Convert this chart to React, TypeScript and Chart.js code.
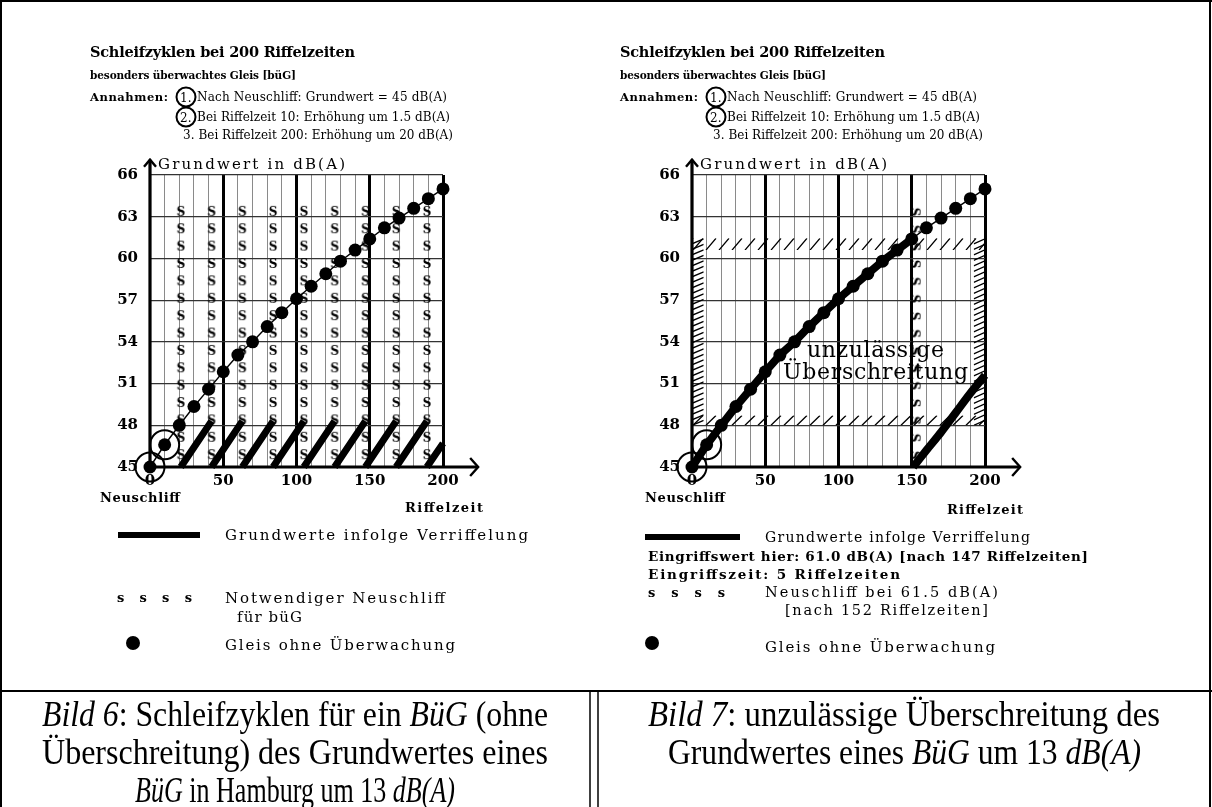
import React, { useEffect, useRef } from "react";
import { Chart, registerables } from "chart.js";
Chart.register(...registerables);

// ---------- data ----------
const riffelzeit = [0, 10, 20, 30, 40, 50, 60, 70, 80, 90, 100, 110, 120, 130, 140, 150, 160, 170, 180, 190, 200];
const gleisOhneUeberwachung = [45, 46.6, 48, 49.35, 50.6, 51.85, 53.05, 54.0, 55.1, 56.1, 57.1, 58.0, 58.9, 59.8, 60.6, 61.4, 62.2, 62.9, 63.6, 64.3, 65.0];
const neuschliffBasis = 45;
const verriffelungStartX = [21, 42, 63, 84, 105, 126, 147, 168, 189];
const verriffelungEndX = [42, 63, 84, 105, 126, 147, 168, 189, 200];
const verriffelungEndY = [48.3, 48.3, 48.3, 48.3, 48.3, 48.3, 48.3, 48.3, 46.7];
const neuschliffSpaltenBild6 = [21, 42, 63, 84, 105, 126, 147, 168, 189];
const neuschliffSpalteBild7 = [152];
const neuschliffStufen = [45.85, 47.1, 48.35, 49.6, 50.85, 52.1, 53.35, 54.6, 55.85, 57.1, 58.35, 59.6, 60.85, 62.1, 63.35];
const eingriffBis = 150;
const nachNeuschliffX = [151, 160, 170, 180, 190, 200];
const nachNeuschliffY = [45, 46.2, 47.5, 48.9, 50.3, 51.6];
const annahmenX = [0, 10];
const annahmenY = [45, 46.6];
const yTickValues = [45, 48, 51, 54, 57, 60, 63, 66];
const xLabelValues = [0, 50, 100, 150, 200];
const grenzbandOben = [60.6, 61.45];
const grenzbandUnten = [48, 48.7];
const randLinks = [0, 8];
const randRechts = [192.3, 200];
const xAchsenEnde = 224;
const yAchsenEnde = 67.1;

const CM = '"DejaVu Serif", serif';
const TIMES = '"Liberation Serif", "Times New Roman", serif';

function makeSGlyph(): HTMLCanvasElement {
  const c = document.createElement("canvas");
  c.width = 12;
  c.height = 14;
  const g = c.getContext("2d")!;
  g.fillStyle = "#000";
  g.font = 'bold 12px "DejaVu Serif"';
  g.textAlign = "center";
  g.textBaseline = "middle";
  g.fillText("S", 6, 7.5);
  return c;
}

const axisPlugin = {
  id: "arrowAxes",
  beforeDatasetsDraw(chart: any) {
    const { ctx, scales } = chart;
    const x = scales.x;
    const y = scales.y;
    const x0 = x.getPixelForValue(0);
    const y0 = y.getPixelForValue(45);
    const xe = x.getPixelForValue(xAchsenEnde);
    const ye = y.getPixelForValue(yAchsenEnde);
    ctx.save();
    ctx.strokeStyle = "#000";
    ctx.lineCap = "butt";
    ctx.lineWidth = 3.2;
    ctx.beginPath();
    ctx.moveTo(x.getPixelForValue(-3), y0);
    ctx.lineTo(xe, y0);
    ctx.moveTo(x0, y0 + 1.5);
    ctx.lineTo(x0, ye);
    ctx.stroke();
    ctx.lineWidth = 2.4;
    ctx.lineJoin = "miter";
    ctx.beginPath();
    ctx.moveTo(xe - 8, y0 - 9);
    ctx.lineTo(xe, y0);
    ctx.lineTo(xe - 8, y0 + 9);
    ctx.moveTo(x0 - 6, ye + 7);
    ctx.lineTo(x0, ye);
    ctx.lineTo(x0 + 6, ye + 7);
    ctx.stroke();
    ctx.restore();
  },
};

const hatchPlugin = {
  id: "hatch",
  beforeDatasetsDraw(chart: any) {
    const { ctx, scales } = chart;
    const x = scales.x;
    const y = scales.y;
    const bands: [number[], number[], string][] = [
      [[0, 200], grenzbandOben, "h"],
      [[0, 200], grenzbandUnten, "h"],
      [randLinks, [grenzbandUnten[0], grenzbandOben[1]], "v"],
      [randRechts, [grenzbandUnten[0], grenzbandOben[1]], "v"],
    ];
    ctx.save();
    ctx.strokeStyle = "#000";
    ctx.lineWidth = 1.3;
    for (const [bx, by, dir] of bands) {
      const L = x.getPixelForValue(bx[0]);
      const R = x.getPixelForValue(bx[1]);
      const T = y.getPixelForValue(by[1]);
      const B = y.getPixelForValue(by[0]);
      ctx.save();
      ctx.beginPath();
      ctx.rect(L, T, R - L, B - T);
      ctx.clip();
      ctx.beginPath();
      if (dir === "h") {
        for (let sx = L + 1; sx < R; sx += 13) {
          ctx.moveTo(sx, B);
          ctx.lineTo(sx + 10, T);
        }
      } else {
        for (let sy = B; sy > T - 6; sy -= 5.5) {
          ctx.moveTo(L, sy);
          ctx.lineTo(R, sy - 5);
        }
      }
      ctx.stroke();
      ctx.restore();
    }
    ctx.restore();
  },
};

function buildConfig(variant: number) {
  const sGlyph = makeSGlyph();
  const dots = riffelzeit.map((v, i) => ({ x: v, y: gleisOhneUeberwachung[i] }));
  const circles = annahmenX.map((v, i) => ({ x: v, y: annahmenY[i] }));
  const sCols = variant === 6 ? neuschliffSpaltenBild6 : neuschliffSpalteBild7;
  const sPoints: { x: number; y: number }[] = [];
  sCols.forEach((c) => neuschliffStufen.forEach((s) => sPoints.push({ x: c, y: s })));

  const datasets: any[] = [
    {
      data: circles,
      order: 0,
      showLine: false,
      pointRadius: 14.5,
      pointBackgroundColor: "rgba(0,0,0,0)",
      pointBorderColor: "#000",
      pointBorderWidth: 2,
      clip: false,
    },
    {
      data: dots,
      order: 1,
      showLine: true,
      borderColor: "#000",
      borderWidth: 1.4,
      pointRadius: 6.5,
      pointBackgroundColor: "#000",
      pointBorderWidth: 0,
      clip: false,
    },
    {
      data: sPoints,
      order: 5,
      showLine: false,
      pointStyle: sGlyph,
      pointRotation: variant === 6 ? 0 : 90,
      clip: false,
    },
  ];

  if (variant === 6) {
    const saw: { x: number; y: number | null }[] = [];
    verriffelungStartX.forEach((sx, i) => {
      if (i > 0) saw.push({ x: sx, y: null });
      saw.push({ x: sx, y: neuschliffBasis });
      saw.push({ x: verriffelungEndX[i], y: verriffelungEndY[i] });
    });
    datasets.push({
      data: saw,
      order: 2,
      borderColor: "#000",
      borderWidth: 7,
      borderCapStyle: "butt",
      pointRadius: 0,
      spanGaps: false,
      clip: false,
    });
  } else {
    datasets.push({
      data: dots.filter((d) => d.x <= eingriffBis),
      order: 2,
      borderColor: "#000",
      borderWidth: 8,
      borderJoinStyle: "round",
      pointRadius: 0,
      clip: false,
    });
    datasets.push({
      data: nachNeuschliffX.map((v, i) => ({ x: v, y: nachNeuschliffY[i] })),
      order: 2,
      borderColor: "#000",
      borderWidth: 8,
      borderCapStyle: "butt",
      tension: 0.3,
      pointRadius: 0,
      clip: false,
    });
  }

  const tickFont = { family: "DejaVu Serif", size: 15, weight: "bold" as const };

  return {
    type: "line" as const,
    data: { datasets },
    plugins: variant === 7 ? [hatchPlugin, axisPlugin] : [axisPlugin],
    options: {
      responsive: false,
      animation: false as const,
      devicePixelRatio: 1,
      events: [],
      layout: { padding: { left: 20, right: 67, top: 35, bottom: 23 } },
      plugins: { legend: { display: false }, tooltip: { enabled: false } },
      elements: { line: { tension: 0 } },
      scales: {
        x: {
          type: "linear" as const,
          min: 0,
          max: 200,
          afterBuildTicks: (s: any) => {
            s.ticks = riffelzeit.map((v) => ({ value: v }));
          },
          afterFit: (s: any) => {
            s.height = 30;
          },
          border: { display: false },
          grid: {
            drawTicks: false,
            color: (c: any) => {
              const v = c.tick ? c.tick.value : 1;
              if (v === 0) return "rgba(0,0,0,0)";
              return xLabelValues.includes(v) ? "#000" : "#8a8a8a";
            },
            lineWidth: (c: any) => (c.tick && xLabelValues.includes(c.tick.value) ? 3 : 1),
          },
          ticks: {
            autoSkip: false,
            maxRotation: 0,
            padding: 5,
            color: "#000",
            font: tickFont,
            callback: (v: any) => (xLabelValues.includes(Number(v)) ? String(v) : ""),
          },
        },
        y: {
          type: "linear" as const,
          min: 45,
          max: 66,
          afterBuildTicks: (s: any) => {
            s.ticks = yTickValues.map((v) => ({ value: v }));
          },
          afterFit: (s: any) => {
            s.width = 40;
          },
          border: { display: false },
          grid: {
            drawTicks: false,
            color: (c: any) => (c.tick && c.tick.value === 45 ? "rgba(0,0,0,0)" : "#333"),
            lineWidth: 1.2,
          },
          ticks: { padding: 12, color: "#000", font: tickFont },
        },
      },
    },
  };
}

function PlotCanvas({ variant, left }: { variant: number; left: number }) {
  const ref = useRef<HTMLCanvasElement>(null);
  useEffect(() => {
    const chart = new Chart(ref.current as HTMLCanvasElement, buildConfig(variant) as any);
    return () => chart.destroy();
  }, [variant]);
  return (
    <canvas
      ref={ref}
      width={420}
      height={380}
      style={{ position: "absolute", left, top: 140, width: 420, height: 380 }}
    />
  );
}

type TP = {
  x: number;
  y: number;
  w?: number;
  size?: number;
  bold?: boolean;
  family?: string;
  adjust?: string;
  italic?: boolean;
  children: React.ReactNode;
};
const T = ({ x, y, w, size = 12, bold = false, family = CM, adjust = "spacing", italic = false, children }: TP) => (
  <text
    x={x}
    y={y}
    textLength={w}
    lengthAdjust={w ? adjust : undefined}
    fontSize={size}
    fontWeight={bold ? "bold" : "normal"}
    fontStyle={italic ? "italic" : "normal"}
    fontFamily={family}
    fill="#000"
  >
    {children}
  </text>
);

function Header({ dx }: { dx: number }) {
  return (
    <g>
      <T x={90 + dx} y={57} w={265} size={14.5} bold>Schleifzyklen bei 200 Riffelzeiten</T>
      <T x={90 + dx} y={79} w={206} size={10.5} bold>besonders überwachtes Gleis [büG]</T>
      <T x={90 + dx} y={101} w={78} size={11.5} bold>Annahmen:</T>
      <circle cx={186 + dx} cy={97} r={9.5} fill="none" stroke="#000" strokeWidth={2} />
      <T x={180 + dx} y={101.5} size={12}>1.</T>
      <T x={197 + dx} y={101} w={250} size={12}>Nach Neuschliff: Grundwert = 45 dB(A)</T>
      <circle cx={186 + dx} cy={117} r={9.5} fill="none" stroke="#000" strokeWidth={2} />
      <T x={180 + dx} y={121.5} size={12}>2.</T>
      <T x={197 + dx} y={121} w={253} size={12}>Bei Riffelzeit 10: Erhöhung um 1.5 dB(A)</T>
      <T x={183 + dx} y={139} w={270} size={12}>3. Bei Riffelzeit 200: Erhöhung um 20 dB(A)</T>
    </g>
  );
}

export default function App() {
  return (
    <div
      style={{
        position: "absolute",
        left: 0,
        top: 0,
        width: 1212,
        height: 807,
        background: "#fff",
        overflow: "hidden",
      }}
    >
      <PlotCanvas variant={6} left={90} />
      <PlotCanvas variant={7} left={632} />
      <svg width={1212} height={807} style={{ position: "absolute", left: 0, top: 0 }}>
        {/* frame */}
        <line x1={1} y1={0} x2={1} y2={807} stroke="#000" strokeWidth={2} />
        <line x1={1210} y1={0} x2={1210} y2={807} stroke="#000" strokeWidth={2} />
        <line x1={0} y1={1} x2={1212} y2={1} stroke="#000" strokeWidth={2} />
        <line x1={0} y1={691} x2={1212} y2={691} stroke="#000" strokeWidth={2} />
        <line x1={590} y1={691} x2={590} y2={807} stroke="#000" strokeWidth={1.5} />
        <line x1={598} y1={691} x2={598} y2={807} stroke="#000" strokeWidth={1.5} />

        <Header dx={0} />
        <Header dx={530} />

        {/* axis titles */}
        <T x={158} y={169} w={187} size={15}>Grundwert in dB(A)</T>
        <T x={100} y={502} w={80} size={13} bold>Neuschliff</T>
        <T x={405} y={512} w={78} size={13} bold>Riffelzeit</T>
        <T x={700} y={169} w={187} size={15}>Grundwert in dB(A)</T>
        <T x={645} y={502} w={80} size={13} bold>Neuschliff</T>
        <T x={947} y={514} w={76} size={13} bold>Riffelzeit</T>

        {/* annotation in Bild 7 */}
        <T x={807} y={357} w={137} size={22}>unzulässige</T>
        <T x={783} y={379} w={185} size={22}>Überschreitung</T>

        {/* legend Bild 6 */}
        <rect x={118} y={532} width={82} height={6} fill="#000" />
        <T x={225} y={540} w={303} size={15}>Grundwerte infolge Verriffelung</T>
        <T x={117} y={602} w={75} size={13} bold>s s s s</T>
        <T x={225} y={603} w={220} size={15}>Notwendiger Neuschliff</T>
        <T x={237} y={622} w={65} size={15}>für büG</T>
        <circle cx={133} cy={643} r={7} fill="#000" />
        <T x={225} y={650} w={230} size={15}>Gleis ohne Überwachung</T>

        {/* legend Bild 7 */}
        <rect x={645} y={534} width={95} height={6} fill="#000" />
        <T x={765} y={542} w={265} size={14}>Grundwerte infolge Verriffelung</T>
        <T x={648} y={561} w={440} size={13.5} bold>Eingriffswert hier: 61.0 dB(A) [nach 147 Riffelzeiten]</T>
        <T x={648} y={579} w={252} size={13.5} bold>Eingriffszeit: 5 Riffelzeiten</T>
        <T x={648} y={597} w={77} size={13} bold>s s s s</T>
        <T x={765} y={597} w={233} size={14.5}>Neuschliff bei 61.5 dB(A)</T>
        <T x={785} y={615} w={203} size={14.5}>[nach 152 Riffelzeiten]</T>
        <circle cx={652} cy={643} r={7} fill="#000" />
        <T x={765} y={652} w={230} size={15}>Gleis ohne Überwachung</T>

        {/* captions */}
        <T x={42} y={726} w={506} size={35} family={TIMES} adjust="spacingAndGlyphs">
          <tspan fontStyle="italic">Bild 6</tspan>: Schleifzyklen für ein <tspan fontStyle="italic">BüG</tspan> (ohne
        </T>
        <T x={42} y={764} w={506} size={35} family={TIMES} adjust="spacingAndGlyphs">
          Überschreitung) des Grundwertes eines
        </T>
        <T x={135} y={802} w={320} size={35} family={TIMES} adjust="spacingAndGlyphs">
          <tspan fontStyle="italic">BüG</tspan> in Hamburg um 13 <tspan fontStyle="italic">dB(A)</tspan>
        </T>
        <T x={648} y={726} w={512} size={35} family={TIMES} adjust="spacingAndGlyphs">
          <tspan fontStyle="italic">Bild 7</tspan>: unzulässige Überschreitung des
        </T>
        <T x={668} y={764} w={473} size={35} family={TIMES} adjust="spacingAndGlyphs">
          Grundwertes eines <tspan fontStyle="italic">BüG</tspan> um 13 <tspan fontStyle="italic">dB(A)</tspan>
        </T>
      </svg>
    </div>
  );
}
